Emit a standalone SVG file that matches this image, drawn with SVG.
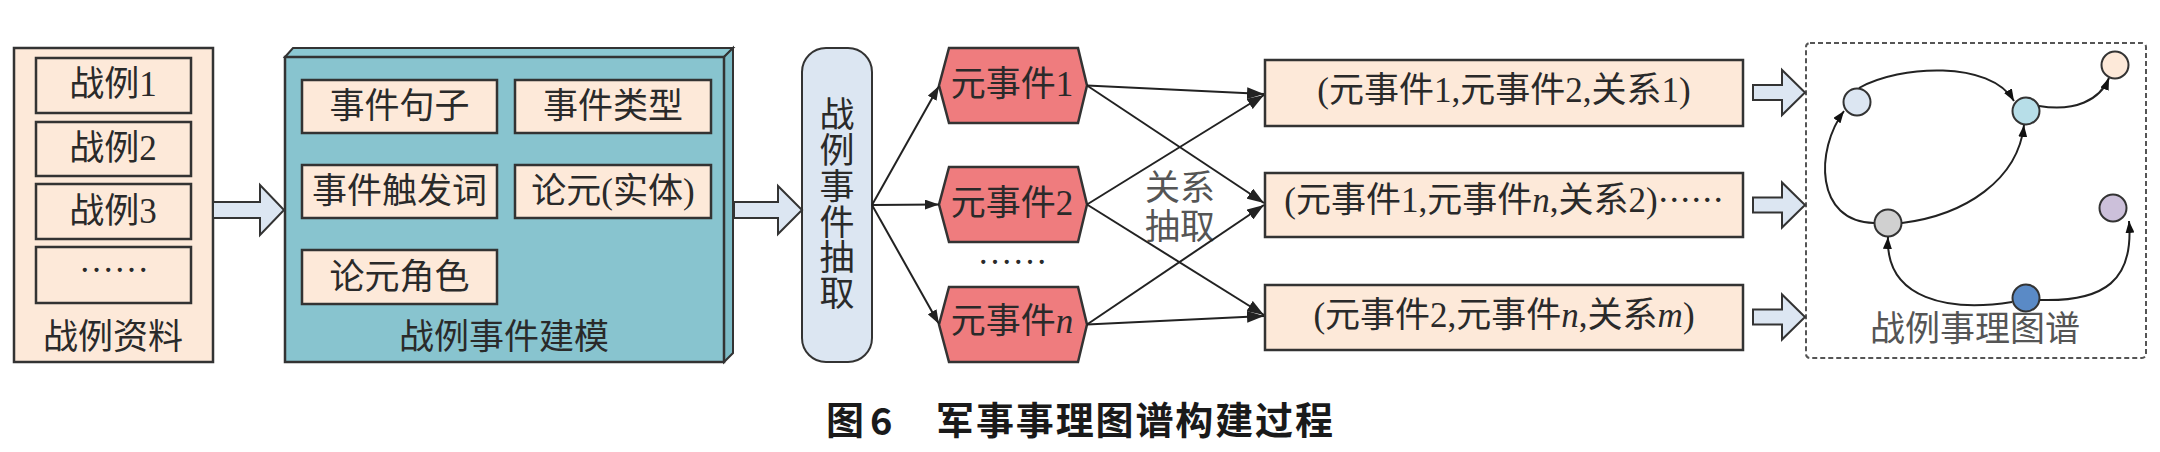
<svg xmlns="http://www.w3.org/2000/svg" width="2160" height="452" viewBox="0 0 2160 452">
<style>
.t{font-family:"Liberation Serif","Noto Sans CJK SC",serif;font-size:35px;fill:#2a2a2a;text-anchor:middle}
.g{fill:#555}
.peach{fill:#FDE9D9;stroke:#333;stroke-width:2.5}
.hex{fill:#EF7C7E;stroke:#333;stroke-width:2.5}
.blk{fill:#DCE6F2;stroke:#333;stroke-width:2}
.ln{stroke:#222;stroke-width:2;fill:none}
.node{stroke:#333;stroke-width:2}
.cap{font-family:"Noto Sans CJK SC","Liberation Sans",sans-serif;font-weight:700;font-size:38px;fill:#1a1a1a}
</style>
<defs>
<marker id="ah" markerUnits="userSpaceOnUse" markerWidth="18" markerHeight="12" refX="17" refY="6" orient="auto"><path d="M0,0 L17,6 L0,12 Z" fill="#222"/></marker>
<marker id="as" markerUnits="userSpaceOnUse" markerWidth="14" markerHeight="10" refX="14" refY="5" orient="auto"><path d="M0,0 L14,5 L0,10 Z" fill="#222"/></marker>
<marker id="ag" markerUnits="userSpaceOnUse" markerWidth="12" markerHeight="9" refX="12" refY="4.5" orient="auto"><path d="M0,0 L12,4.5 L0,9 Z" fill="#111"/></marker>
</defs>

<g id="n-source">
<rect x="14" y="48" width="199" height="314" class="peach"/>
<rect x="36" y="58" width="155" height="55" class="peach"/>
<rect x="36" y="122" width="155" height="54" class="peach"/>
<rect x="36" y="184" width="155" height="55" class="peach"/>
<rect x="36" y="247" width="155" height="56" class="peach"/>
<text class="t" x="113" y="96">战例1</text>
<text class="t" x="113" y="160">战例2</text>
<text class="t" x="113" y="223">战例3</text>
<text class="t" x="114" y="272">……</text>
<text class="t" x="113" y="349">战例资料</text>
</g>

<g id="n-model">
<polygon points="285,57 293,48 733,48 724,57" fill="#8CC8D2" stroke="#333" stroke-width="2"/>
<polygon points="724,57 733,48 733,353 724,362" fill="#7CBBC6" stroke="#333" stroke-width="2"/>
<rect x="285" y="57" width="439" height="305" fill="#88C4CF" stroke="#333" stroke-width="2.5"/>
<rect x="302" y="80" width="195" height="53" class="peach"/>
<rect x="515" y="80" width="196" height="53" class="peach"/>
<rect x="302" y="165" width="195" height="53" class="peach"/>
<rect x="515" y="165" width="196" height="53" class="peach"/>
<rect x="302" y="250" width="195" height="54" class="peach"/>
<text class="t" x="399.5" y="118">事件句子</text>
<text class="t" x="613" y="118">事件类型</text>
<text class="t" x="399.5" y="203">事件触发词</text>
<text class="t" x="613" y="203">论元(实体)</text>
<text class="t" x="399.5" y="289">论元角色</text>
<text class="t" x="504" y="349">战例事件建模</text>
</g>

<g id="n-extract">
<rect x="802" y="48" width="70" height="314" rx="24" ry="24" fill="#DCE6F2" stroke="#333" stroke-width="2"/>
<text class="t" x="837"><tspan x="837" y="127">战</tspan><tspan x="837" y="163">例</tspan><tspan x="837" y="199">事</tspan><tspan x="837" y="235">件</tspan><tspan x="837" y="270">抽</tspan><tspan x="837" y="306">取</tspan></text>
</g>

<g id="n-meta1">
<polygon points="939,85.5 949,48 1078,48 1087,85.5 1078,123 949,123" class="hex"/>
<text class="t" x="1012" y="96">元事件1</text>
</g>
<g id="n-meta2">
<polygon points="939,204.5 949,167 1078,167 1087,204.5 1078,242 949,242" class="hex"/>
<text class="t" x="1012" y="215">元事件2</text>
</g>
<text class="t" x="1012.5" y="264">……</text>
<g id="n-metan">
<polygon points="939,324.5 949,287 1078,287 1087,324.5 1078,362 949,362" class="hex"/>
<text class="t" x="1012" y="333">元事件<tspan font-style="italic">n</tspan></text>
</g>

<g id="n-rel1">
<rect x="1265" y="60" width="478" height="66" class="peach"/>
<text class="t" x="1504" y="102">(元事件1,元事件2,关系1)</text>
</g>
<g id="n-rel2">
<rect x="1265" y="173" width="478" height="64" class="peach"/>
<text class="t" x="1504" y="212">(元事件1,元事件<tspan font-style="italic">n</tspan>,关系2)<tspan font-family="Noto Sans CJK SC" font-size="33">……</tspan></text>
</g>
<g id="n-rel3">
<rect x="1265" y="285" width="478" height="65" class="peach"/>
<text class="t" x="1504" y="327">(元事件2,元事件<tspan font-style="italic">n</tspan>,关系<tspan font-style="italic">m</tspan>)</text>
</g>

<text class="t g" x="1180" y="200">关系</text>
<text class="t g" x="1180" y="239">抽取</text>

<g id="n-graph">
<rect x="1806" y="43" width="340" height="315" rx="4" fill="none" stroke="#555" stroke-width="2" stroke-dasharray="5,3"/>
<text class="t g" x="1975" y="341">战例事理图谱</text>
</g>
<g id="n-e1"><circle cx="1857" cy="102" r="13.5" fill="#DCE6F2" class="node"/></g>
<g id="n-e2"><circle cx="2026" cy="111" r="13.5" fill="#B7DEE8" class="node"/></g>
<g id="n-e3"><circle cx="2115" cy="65" r="13.5" fill="#FDE9D9" class="node"/></g>
<g id="n-e4"><circle cx="1888" cy="223" r="13.5" fill="#D0D0D0" class="node"/></g>
<g id="n-e5"><circle cx="2113" cy="208" r="13.5" fill="#CCC0DA" class="node"/></g>
<g id="n-e6"><circle cx="2026" cy="298" r="13.5" fill="#5A8AC6" class="node"/></g>

<g id="connectors">
<path d="M213,202 L260,202 L260,185 L284,210 L260,235 L260,218 L213,218 Z" class="blk"/>
<path d="M734,202 L778,202 L778,186 L802,210 L778,234 L778,218 L734,218 Z" class="blk"/>
<path d="M1753,85 L1782,85 L1782,70 L1805,92.5 L1782,115 L1782,100 L1753,100 Z" class="blk"/>
<path d="M1753,197.5 L1782,197.5 L1782,182.5 L1805,205 L1782,227.5 L1782,212.5 L1753,212.5 Z" class="blk"/>
<path d="M1753,309.5 L1782,309.5 L1782,294.5 L1805,317 L1782,339.5 L1782,324.5 L1753,324.5 Z" class="blk"/>

<line x1="872" y1="205" x2="939" y2="86" class="ln" marker-end="url(#as)"/>
<line x1="872" y1="205" x2="939" y2="204.5" class="ln" marker-end="url(#as)"/>
<line x1="872" y1="205" x2="939" y2="324" class="ln" marker-end="url(#as)"/>

<line x1="1087" y1="85.5" x2="1264" y2="94" class="ln" marker-end="url(#ah)"/>
<line x1="1087" y1="85.5" x2="1264" y2="203" class="ln" marker-end="url(#ah)"/>
<line x1="1087" y1="204.5" x2="1264" y2="95" class="ln" marker-end="url(#ah)"/>
<line x1="1087" y1="204.5" x2="1264" y2="315" class="ln" marker-end="url(#ah)"/>
<line x1="1087" y1="324.5" x2="1264" y2="205" class="ln" marker-end="url(#ah)"/>
<line x1="1087" y1="324.5" x2="1264" y2="316" class="ln" marker-end="url(#ah)"/>

<path d="M1874,223 C1815,222 1815,150 1844,111" class="ln" marker-end="url(#ag)"/>
<path d="M1859,88 C1900,65 1990,60 2014,101" class="ln" marker-end="url(#ag)"/>
<path d="M1902,223 C1965,215 2018,180 2024,125" class="ln" marker-end="url(#ag)"/>
<path d="M2039,106 C2075,112 2100,100 2109,78" class="ln" marker-end="url(#ag)"/>
<path d="M2012,302 C1950,312 1885,300 1888,237" class="ln" marker-end="url(#ag)"/>
<path d="M2040,300 C2105,302 2134,280 2129,221" class="ln" marker-end="url(#ag)"/>
</g>

<text class="cap" x="826" y="434">图</text>
<text class="cap" x="870" y="435" font-family="Liberation Sans" font-size="44">6</text>
<text class="cap" x="936" y="434" textLength="397" lengthAdjust="spacing">军事事理图谱构建过程</text>
</svg>
